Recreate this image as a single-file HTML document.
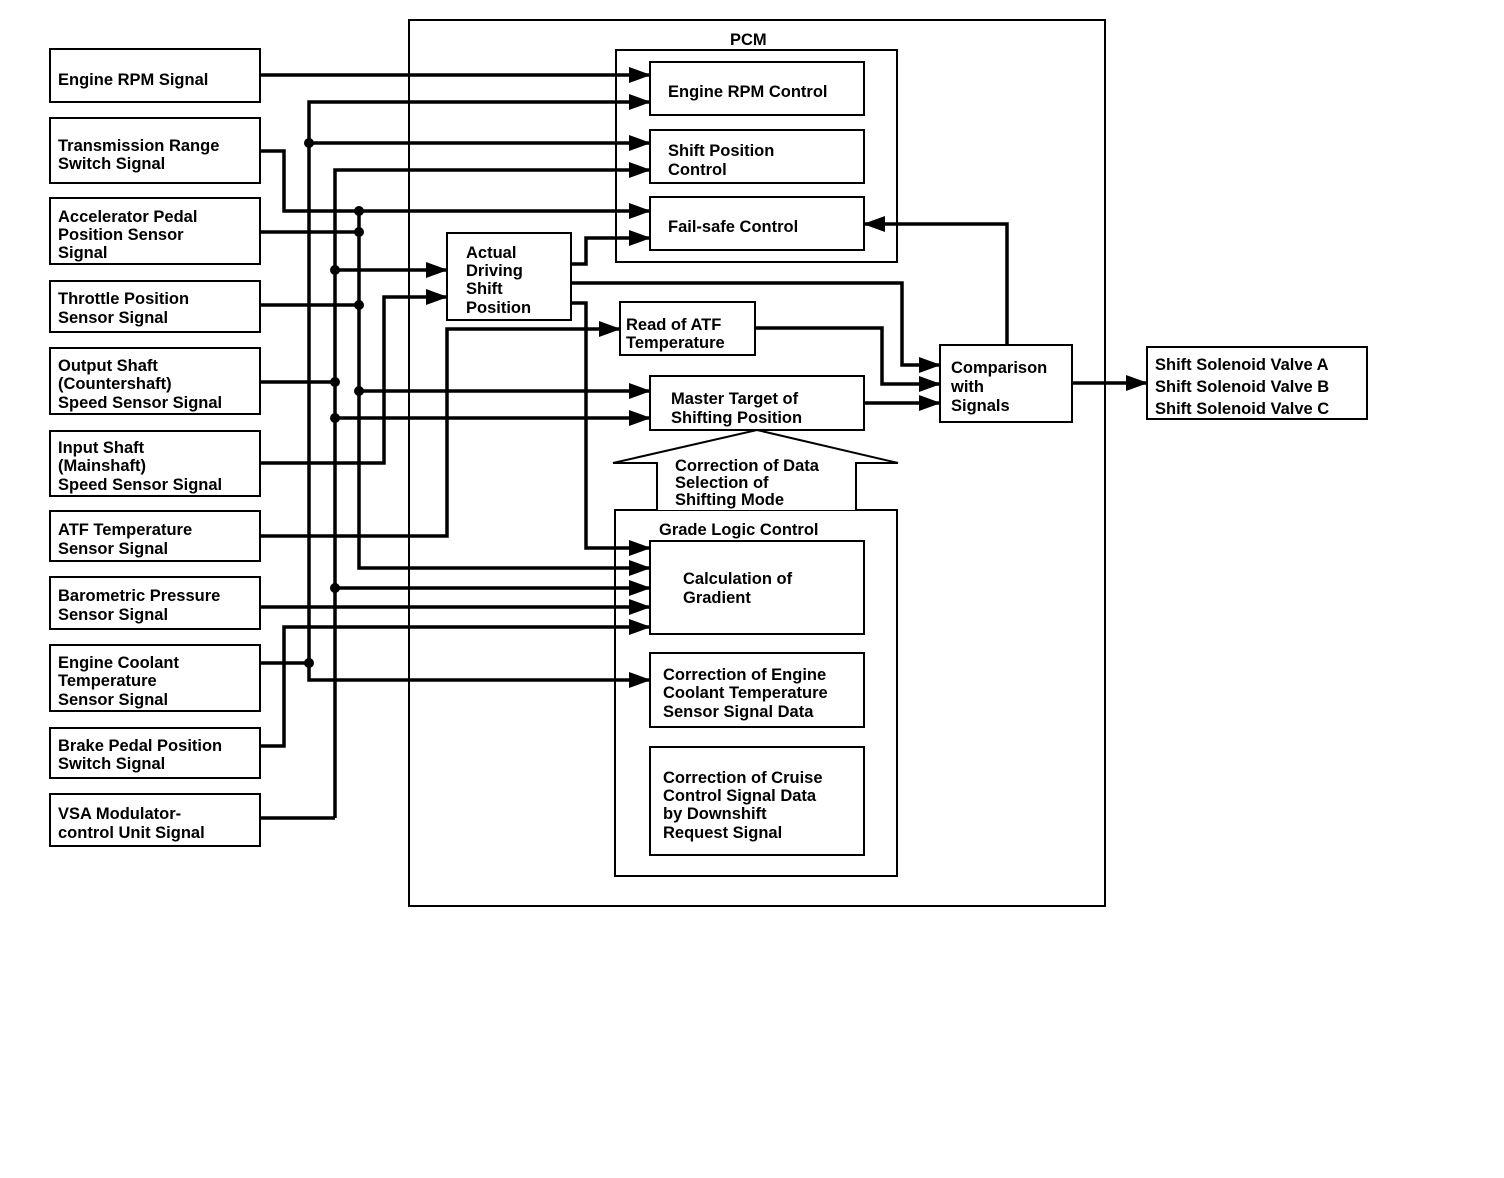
<!DOCTYPE html>
<html><head><meta charset="utf-8"><style>
html,body{margin:0;padding:0;background:#fff;}
svg{display:block;}
text{font-family:"Liberation Sans",Arial,sans-serif;font-weight:bold;font-size:16.5px;fill:#000;}
</style></head><body>
<svg width="1504" height="1178" viewBox="0 0 1504 1178" xmlns="http://www.w3.org/2000/svg">
<defs>
<marker id="a" markerWidth="22" markerHeight="16" refX="21" refY="8" orient="auto" markerUnits="userSpaceOnUse">
<path d="M0,0 L22,8 L0,16 z" fill="#000"/>
</marker>
</defs>
<g fill="none" stroke="#000" stroke-width="2">
<rect x="409" y="20" width="696" height="886"/>
<rect x="616" y="50" width="281" height="212"/>
<rect x="650" y="62" width="214" height="53"/>
<rect x="650" y="130" width="214" height="53"/>
<rect x="650" y="197" width="214" height="53"/>
<rect x="447" y="233" width="124" height="87"/>
<rect x="620" y="302" width="135" height="53"/>
<rect x="650" y="376" width="214" height="54"/>
<rect x="940" y="345" width="132" height="77"/>
<rect x="1147" y="347" width="220" height="72"/>
<rect x="615" y="510" width="282" height="366"/>
<rect x="650" y="541" width="214" height="93"/>
<rect x="650" y="653" width="214" height="74"/>
<rect x="650" y="747" width="214" height="108"/>
<path d="M657,510 L657,463 L613,463 L757,430 L898,463 L856,463 L856,510" fill="#fff"/>
<rect x="50" y="49" width="210" height="53"/>
<rect x="50" y="118" width="210" height="65"/>
<rect x="50" y="198" width="210" height="66"/>
<rect x="50" y="281" width="210" height="51"/>
<rect x="50" y="348" width="210" height="66"/>
<rect x="50" y="431" width="210" height="65"/>
<rect x="50" y="511" width="210" height="50"/>
<rect x="50" y="577" width="210" height="52"/>
<rect x="50" y="645" width="210" height="66"/>
<rect x="50" y="728" width="210" height="50"/>
<rect x="50" y="794" width="210" height="52"/>
</g>
<g fill="none" stroke="#000" stroke-width="3.5">
<path d="M260,75 H650" marker-end="url(#a)"/>
<path d="M309,663 V102 H650" marker-end="url(#a)"/>
<path d="M309,143 H650" marker-end="url(#a)"/>
<path d="M309,663 V680 H650" marker-end="url(#a)"/>
<path d="M260,663 H309"/>
<path d="M335,818 V170 H650" marker-end="url(#a)"/>
<path d="M260,818 H335"/>
<path d="M335,270 H447" marker-end="url(#a)"/>
<path d="M260,382 H335"/>
<path d="M335,418 H650" marker-end="url(#a)"/>
<path d="M335,588 H650" marker-end="url(#a)"/>
<path d="M260,151 H284 V211 H650" marker-end="url(#a)"/>
<path d="M359,211 V568 H650" marker-end="url(#a)"/>
<path d="M260,232 H359"/>
<path d="M260,305 H359"/>
<path d="M359,391 H650" marker-end="url(#a)"/>
<path d="M260,463 H384 V297 H447" marker-end="url(#a)"/>
<path d="M260,536 H447 V329 H620" marker-end="url(#a)"/>
<path d="M260,607 H650" marker-end="url(#a)"/>
<path d="M260,746 H284 V627 H650" marker-end="url(#a)"/>
<path d="M571,264 H586 V238 H650" marker-end="url(#a)"/>
<path d="M571,283 H902 V365 H940" marker-end="url(#a)"/>
<path d="M571,303 H586 V548 H650" marker-end="url(#a)"/>
<path d="M755,328 H882 V384 H940" marker-end="url(#a)"/>
<path d="M864,403 H940" marker-end="url(#a)"/>
<path d="M1007,345 V224 H864" marker-end="url(#a)"/>
<path d="M1072,383 H1147" marker-end="url(#a)"/>
</g>
<g fill="#000">
<circle cx="309" cy="143" r="5"/><circle cx="309" cy="663" r="5"/>
<circle cx="335" cy="270" r="5"/><circle cx="335" cy="382" r="5"/><circle cx="335" cy="418" r="5"/><circle cx="335" cy="588" r="5"/>
<circle cx="359" cy="211" r="5"/><circle cx="359" cy="232" r="5"/><circle cx="359" cy="305" r="5"/><circle cx="359" cy="391" r="5"/>
</g>
<g>
<text x="58" y="85">Engine RPM Signal</text>
<text x="58" y="151">Transmission Range</text><text x="58" y="169">Switch Signal</text>
<text x="58" y="222">Accelerator Pedal</text><text x="58" y="240">Position Sensor</text><text x="58" y="258">Signal</text>
<text x="58" y="304">Throttle Position</text><text x="58" y="323">Sensor Signal</text>
<text x="58" y="371">Output Shaft</text><text x="58" y="389">(Countershaft)</text><text x="58" y="408">Speed Sensor Signal</text>
<text x="58" y="453">Input Shaft</text><text x="58" y="471">(Mainshaft)</text><text x="58" y="490">Speed Sensor Signal</text>
<text x="58" y="535">ATF Temperature</text><text x="58" y="554">Sensor Signal</text>
<text x="58" y="601">Barometric Pressure</text><text x="58" y="620">Sensor Signal</text>
<text x="58" y="668">Engine Coolant</text><text x="58" y="686">Temperature</text><text x="58" y="705">Sensor Signal</text>
<text x="58" y="751">Brake Pedal Position</text><text x="58" y="769">Switch Signal</text>
<text x="58" y="819">VSA Modulator-</text><text x="58" y="838">control Unit Signal</text>
<text x="730" y="45">PCM</text>
<text x="668" y="97">Engine RPM Control</text>
<text x="668" y="156">Shift Position</text><text x="668" y="175">Control</text>
<text x="668" y="232">Fail-safe Control</text>
<text x="466" y="258">Actual</text><text x="466" y="276">Driving</text><text x="466" y="294">Shift</text><text x="466" y="313">Position</text>
<text x="626" y="330">Read of ATF</text><text x="626" y="348">Temperature</text>
<text x="671" y="404">Master Target of</text><text x="671" y="423">Shifting Position</text>
<text x="951" y="373">Comparison</text><text x="951" y="392">with</text><text x="951" y="411">Signals</text>
<text x="1155" y="370">Shift Solenoid Valve A</text><text x="1155" y="392">Shift Solenoid Valve B</text><text x="1155" y="414">Shift Solenoid Valve C</text>
<text x="675" y="471">Correction of Data</text><text x="675" y="488">Selection of</text><text x="675" y="505">Shifting Mode</text>
<text x="659" y="535">Grade Logic Control</text>
<text x="683" y="584">Calculation of</text><text x="683" y="603">Gradient</text>
<text x="663" y="680">Correction of Engine</text><text x="663" y="698">Coolant Temperature</text><text x="663" y="717">Sensor Signal Data</text>
<text x="663" y="783">Correction of Cruise</text><text x="663" y="801">Control Signal Data</text><text x="663" y="819">by Downshift</text><text x="663" y="838">Request Signal</text>
</g>
</svg>
</body></html>
